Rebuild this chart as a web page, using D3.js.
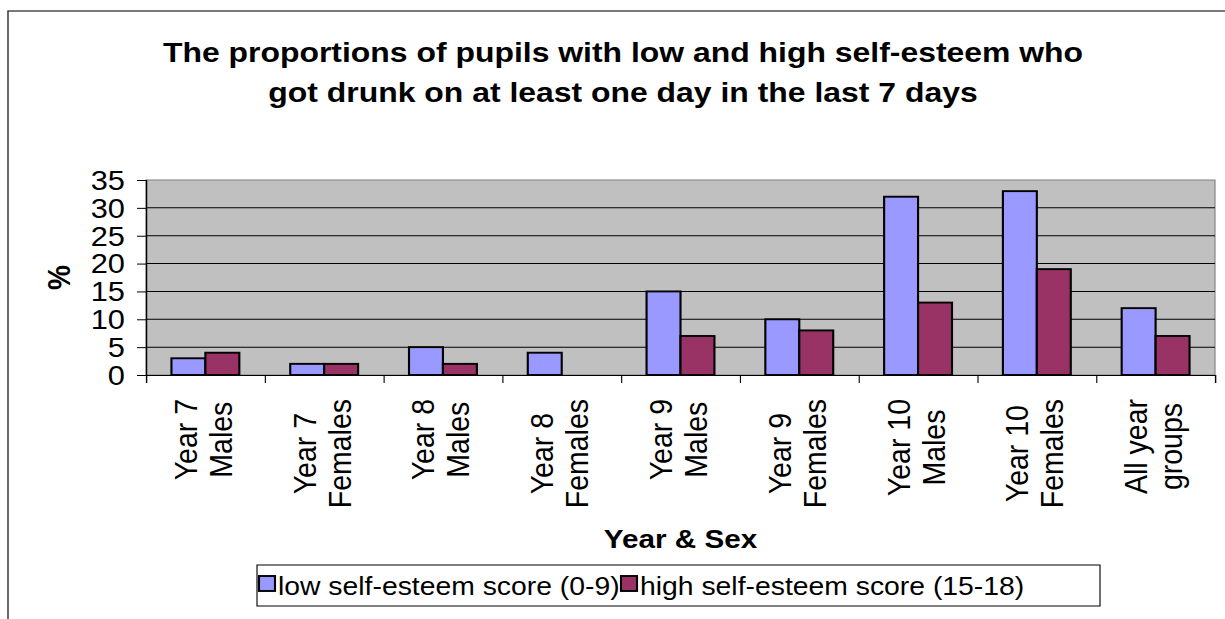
<!DOCTYPE html>
<html>
<head>
<meta charset="utf-8">
<script src="https://cdn.jsdelivr.net/npm/d3@7"></script>
<style>
  html, body { margin: 0; padding: 0; background: #fff; }
  svg { display: block; }
  text { font-family: Arial, "Liberation Sans", Helvetica, sans-serif; fill: #000; }
</style>
</head>
<body>
<svg id="chart"></svg>
<script>
const categories = [
  ["Year 7", "Males"], ["Year 7", "Females"], ["Year 8", "Males"], ["Year 8", "Females"],
  ["Year 9", "Males"], ["Year 9", "Females"], ["Year 10", "Males"], ["Year 10", "Females"],
  ["All year", "groups"]
];
const seriesNames = ["low self-esteem score (0-9)", "high self-esteem score (15-18)"];
const lowValues  = [3, 2, 5, 4, 15, 10, 32, 33, 12];
const highValues = [4, 2, 2, 0, 7, 8, 13, 19, 7];
const yTicks = [0, 5, 10, 15, 20, 25, 30, 35];
const titleLines = ["The proportions of pupils with low and high self-esteem who",
                    "got drunk on at least one day in the last 7 days"];
const colors = ["#9999FF", "#993366"];

const W = 1225, H = 619, SX = 1.12;
const VW = W / SX;
const px = x => x / SX;

const svg = d3.select("#chart")
  .attr("width", W).attr("height", H)
  .attr("viewBox", `0 0 ${VW} ${H}`)
  .attr("preserveAspectRatio", "none");

// outer chart border
svg.append("rect").attr("x", px(8)).attr("y", 11)
  .attr("width", VW).attr("height", H)
  .attr("fill", "#fff").attr("stroke", "#333").attr("stroke-width", 1.3);

const pLeft = px(146), pRight = px(1215), pTop = 180, pBottom = 375;
const keys = categories.map(c => c.join(" "));

const x = d3.scaleBand().domain(keys).range([pLeft, pRight]).padding(0);
const xs = d3.scaleBand().domain([0, 1]).range([0, x.bandwidth()]).paddingInner(0).paddingOuter(0.75);
const y = d3.scaleLinear().domain([0, 35]).range([pBottom, pTop]);

// plot area
svg.append("rect").attr("x", pLeft).attr("y", pTop)
  .attr("width", pRight - pLeft).attr("height", pBottom - pTop)
  .attr("fill", "#C0C0C0").attr("stroke", "#808080").attr("stroke-width", 1);

// gridlines
svg.append("g").selectAll("line").data(yTicks.filter(t => t > 0 && t < 35)).join("line")
  .attr("x1", pLeft).attr("x2", pRight)
  .attr("y1", d => y(d)).attr("y2", d => y(d))
  .attr("stroke", "#000").attr("stroke-width", 1);

// bars
const data = keys.map((k, i) => ({ k, vals: [lowValues[i], highValues[i]] }));
const groups = svg.append("g").selectAll("g").data(data).join("g")
  .attr("transform", d => `translate(${x(d.k)},0)`);
groups.selectAll("rect").data(d => d.vals.map((v, j) => ({ v, j })).filter(e => e.v > 0)).join("rect")
  .attr("x", d => xs(d.j)).attr("width", xs.bandwidth())
  .attr("y", d => y(d.v)).attr("height", d => y(0) - y(d.v))
  .attr("fill", d => colors[d.j]).attr("stroke", "#000").attr("stroke-width", 1.9);

// y axis
const yAxis = d3.axisLeft(y).tickValues(yTicks).tickSize(px(9)).tickPadding(px(12));
const gy = svg.append("g").attr("transform", `translate(${pLeft},0)`).call(yAxis);
gy.select(".domain").attr("stroke", "#000").attr("stroke-width", 1.2);
gy.selectAll(".tick line").attr("stroke", "#000");
gy.selectAll(".tick text").attr("font-size", 27.5)
  .attr("font-family", "Arial, 'Liberation Sans', sans-serif").attr("dy", "0.34em");

// x axis (ticks at category boundaries)
const bx = d3.scaleLinear().domain([0, keys.length]).range([pLeft, pRight]);
const gx = svg.append("g").attr("transform", `translate(0,${pBottom})`)
  .call(d3.axisBottom(bx).tickValues(d3.range(0, keys.length + 1)).tickSize(8).tickFormat(""));
gx.select(".domain").attr("stroke", "#000").attr("stroke-width", 1.2);
gx.selectAll(".tick line").attr("stroke", "#000");

// category labels (rotated, two lines)
const labelTop = 399, fs = 28.5;
categories.forEach((c, i) => {
  const cx = x(keys[i]) + x.bandwidth() / 2;
  const g = svg.append("g");
  const ts = c.map(s => g.append("text").text(s).attr("font-size", fs));
  const maxLen = d3.max(ts, t => t.node().getComputedTextLength());
  const cy = labelTop + maxLen / 2;
  ts.forEach((t, j) => {
    const base = cx + (j === 0 ? -px(8.5) : px(26.5));
    t.attr("text-anchor", "middle")
     .attr("transform", `translate(${base},${cy}) rotate(-90)`);
  });
});

// y axis title
svg.append("text").text("%")
  .attr("font-size", 28).attr("font-weight", "bold").attr("text-anchor", "middle")
  .attr("transform", `translate(${px(70)},${(pTop + pBottom) / 2}) rotate(-90)`);

// x axis title
svg.append("text").text("Year & Sex")
  .attr("x", (pLeft + pRight) / 2).attr("y", 548)
  .attr("font-size", 26.5).attr("font-weight", "bold").attr("text-anchor", "middle");

// title
svg.append("g").selectAll("text").data(titleLines).join("text")
  .text(d => d)
  .attr("x", px(623)).attr("y", (d, i) => 62 + i * 40)
  .attr("font-size", 28.5).attr("font-weight", "bold").attr("text-anchor", "middle");

// legend
svg.append("rect").attr("x", px(257)).attr("y", 565)
  .attr("width", px(1100) - px(257)).attr("height", 41)
  .attr("fill", "#fff").attr("stroke", "#000").attr("stroke-width", 1);
const legendItems = [
  { sw: px(259), tx: px(278) },
  { sw: px(621), tx: px(640) }
];
legendItems.forEach((it, i) => {
  svg.append("rect").attr("x", it.sw).attr("y", 576)
    .attr("width", px(16)).attr("height", 15)
    .attr("fill", colors[i]).attr("stroke", "#000").attr("stroke-width", 1.9);
  svg.append("text").text(seriesNames[i])
    .attr("x", it.tx).attr("y", 595).attr("font-size", 25.3);
});
</script>
</body>
</html>
